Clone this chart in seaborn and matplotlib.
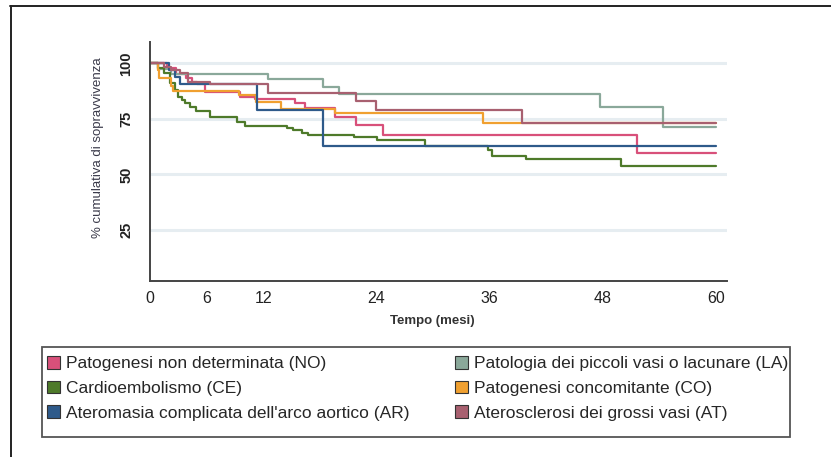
import pandas as pd
import matplotlib
matplotlib.use("Agg")
import matplotlib.pyplot as plt
import seaborn as sns
from matplotlib.patches import Patch, Rectangle
from matplotlib.lines import Line2D

# survival curves (Kaplan-Meier)
gruppi = ["NO", "LA", "CE", "CO", "AR", "AT"]
etichette = [
    "Patogenesi non determinata (NO)",
    "Patologia dei piccoli vasi o lacunare (LA)",
    "Cardioembolismo (CE)",
    "Patogenesi concomitante (CO)",
    "Ateromasia complicata dell'arco aortico (AR)",
    "Aterosclerosi dei grossi vasi (AT)",
]
colori = ["#d8507a", "#8aa89a", "#4e7a2a", "#f0a030", "#2e5a8a", "#a86070"]

tempo_no = [0, 1.8, 2.8, 3.8, 4.5, 5.0, 5.8, 9.5, 11.1, 15.4, 16.4, 19.6, 21.9, 24.7, 51.7, 60]
surv_no = [100, 98, 95, 93.5, 91.5, 90.5, 87.2, 85, 83.8, 82, 79.7, 76, 72.2, 67.7, 59.5, 59.5]

tempo_la = [0, 0.9, 2.2, 12.5, 18.4, 20.0, 47.7, 54.4, 60]
surv_la = [100, 97.5, 95, 92.8, 89.5, 86.2, 80.5, 71.5, 71.5]

tempo_ce = [0, 0.9, 1.5, 2.1, 2.65, 3.0, 3.4, 3.7, 4.2, 4.9, 6.4, 9.2, 10.1, 14.5, 15.2,
            16.1, 16.8, 21.6, 24.1, 29.2, 35.9, 36.3, 39.9, 50, 60]
surv_ce = [100, 97.7, 95.5, 91, 88, 85, 83.5, 82, 80.5, 78.7, 76, 73.7, 71.8, 70.7, 70,
           68.5, 67.7, 67, 65.5, 63, 61, 58.4, 56.8, 53.8, 53.8]

tempo_co = [0, 0.9, 1.0, 2.2, 2.4, 9.4, 11.2, 13.9, 19.6, 35.3, 60]
surv_co = [100, 97, 93.5, 90, 87.7, 85.7, 82.7, 79.4, 77.5, 73, 73]

tempo_ar = [0, 2.0, 2.7, 3.2, 11.3, 18.3, 60]
surv_ar = [100, 97, 94, 90.5, 79, 63, 63]

tempo_at = [0, 1.5, 2.2, 3.2, 4.0, 6.4, 12.5, 21.9, 24.0, 39.5, 60]
surv_at = [100, 98.5, 97, 95.5, 91.7, 90.5, 86.8, 83.2, 79, 73, 73]

x_ticks = [0, 6, 12, 24, 36, 48, 60]
y_ticks = [25, 50, 75, 100]

tempi = [tempo_no, tempo_la, tempo_ce, tempo_co, tempo_ar, tempo_at]
surv = [surv_no, surv_la, surv_ce, surv_co, surv_ar, surv_at]
df = pd.concat([
    pd.DataFrame({"tempo": t, "surv": s, "gruppo": g})
    for g, t, s in zip(gruppi, tempi, surv)
], ignore_index=True)

sns.set_style("white")
plt.rcParams["font.family"] = ["Liberation Sans", "DejaVu Sans"]

fig = plt.figure(figsize=(8.31, 4.57), dpi=100)
ax = fig.add_axes([0.1805, 0.385, 0.6944, 0.523])

# faint horizontal grid
for yv in y_ticks:
    ax.axhline(yv, color="#e6edf1", lw=2.2, zorder=0)

sns.lineplot(data=df, x="tempo", y="surv", hue="gruppo", hue_order=gruppi,
             palette=dict(zip(gruppi, colori)), drawstyle="steps-post",
             estimator=None, sort=False, lw=1.6, legend=False, ax=ax)

ax.set_xlim(0, 61.2)
ax.set_ylim(2, 109.6)
ax.set_xticks(x_ticks)
ax.set_yticks(y_ticks)
ax.set_xticklabels([str(v) for v in x_ticks], fontsize=11.5, color="#222222")
ax.set_yticklabels([str(v) for v in y_ticks], fontsize=10.5, fontweight="bold",
                   rotation=90, va="center", color="#222222")
ax.tick_params(axis="x", direction="out", length=4, width=1, pad=3, color="#333333")
ax.tick_params(axis="y", direction="out", length=4, width=1, pad=8, color="#333333")
for sp in ["top", "right"]:
    ax.spines[sp].set_visible(False)
for sp in ["left", "bottom"]:
    ax.spines[sp].set_color("#444444")
    ax.spines[sp].set_linewidth(1.4)

ax.set_xlabel("Tempo (mesi)", fontsize=9.5, fontweight="bold", color="#333333")
ax.set_ylabel("% cumulativa di sopravvivenza", fontsize=9.5, color="#3a3a4a")
ax.xaxis.set_label_coords(0.49, -0.14)
ax.yaxis.set_label_coords(-0.08, 0.556)

# legend below the plot, with its own box
handles = [Patch(facecolor=c, edgecolor="#333333", lw=0.8) for c in colori]
order = [0, 2, 4, 1, 3, 5]
fig.legend([handles[i] for i in order], [etichette[i] for i in order],
           ncol=2, loc="upper left", mode="expand",
           bbox_to_anchor=(47 / 831, 1 - 356 / 457, 741 / 831, 0.0),
           fontsize=12.5, frameon=False,
           handlelength=0.75, handleheight=0.75, handletextpad=0.35,
           labelspacing=0.53, borderpad=0, borderaxespad=0, columnspacing=0.3)
fig.add_artist(Rectangle((42 / 831, 20 / 457), 748 / 831, 90 / 457,
                         transform=fig.transFigure, fill=False,
                         edgecolor="#555555", lw=1.3))

# outer frame (top and left edges)
fig.add_artist(Line2D([10 / 831, 1.0], [1 - 6 / 457, 1 - 6 / 457], color="#222222", lw=1.4))
fig.add_artist(Line2D([11 / 831, 11 / 831], [0, 1 - 6 / 457], color="#222222", lw=1.4))

fig.savefig("out.png", dpi=100)
